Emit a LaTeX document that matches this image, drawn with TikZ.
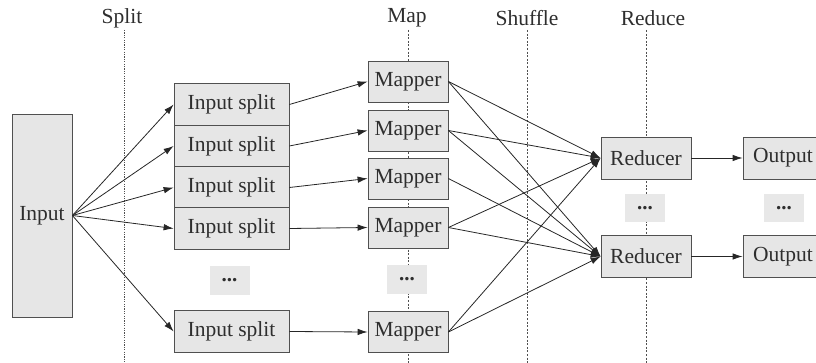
\documentclass[tikz,border=0pt]{standalone}
\usepackage{fontspec}
\setmainfont{Liberation Serif}
\usetikzlibrary{arrows.meta}
\definecolor{boxfill}{HTML}{E6E6E6}
\definecolor{dotfill}{HTML}{E8E8E8}
\definecolor{edge}{HTML}{505050}
\definecolor{txt}{HTML}{2E2E2E}
\begin{document}
\begin{tikzpicture}[x=1pt,y=-1pt,
  box/.style={draw=edge,fill=boxfill,line width=0.8pt,inner sep=0pt,text=txt,
    font=\fontsize{21.5}{24}\selectfont},
  dotbox/.style={fill=dotfill,inner sep=0pt,minimum width=40pt,minimum height=28pt,text=txt,
    font=\fontsize{21}{22}\selectfont\bfseries},
  phase/.style={text=txt,font=\fontsize{21.5}{24}\selectfont},
  sep/.style={draw=edge,line width=0.7pt,dash pattern=on 2pt off 1.6pt},
  arr/.style={draw=black!85,line width=0.8pt,-{Latex[length=10pt,width=6.5pt]}},
]
\clip (0,0) rectangle (816,363);
\useasboundingbox (0,0) rectangle (816,363);
% phase labels and separators
\node[phase] (lsplit) at (122,18) {Split};
\node[phase] (lmap) at (407,18) {Map};
\node[phase] (lshuf) at (527,18) {Shuffle};
\node[phase] (lred) at (653,18) {Reduce};
\coordinate (s1) at (124,30); \coordinate (s2) at (124,363);
\coordinate (m1) at (408,30); \coordinate (m2) at (408,363);
\coordinate (h1) at (527,30); \coordinate (h2) at (527,363);
\coordinate (r1) at (646,30); \coordinate (r2) at (646,363);
\draw[sep, dash pattern=on 1.2pt off 1.2pt] (s1) -- (s2);
\draw[sep] (m1) -- (m2);
\draw[sep] (h1) -- (h2);
\draw[sep] (r1) -- (r2);
% input
\node[box,minimum width=60pt,minimum height=203pt] (in) at (42,215.5) {Input};
% splits
\foreach \n/\y in {1/104.5,2/146,3/187.5,4/228.5,5/331.5}
  \node[box,minimum width=115pt,minimum height=41.3pt] (sp\n) at (231.5,\y) {Input split};
\node[dotbox] (spd) at (229.5,280.5) {...};
% mappers
\foreach \n/\y in {1/81.5,2/130.5,3/178.5,4/227.5,5/332}
  \node[box,minimum width=80pt,minimum height=41pt] (mp\n) at (408,\y) {Mapper};
\node[dotbox] (mpd) at (407,279.5) {...};
% reducers
\node[box,minimum width=90pt,minimum height=42pt] (rd1) at (646,158) {Reducer};
\node[box,minimum width=90pt,minimum height=42pt] (rd2) at (646,256.5) {Reducer};
\node[dotbox] (rdd) at (645,208) {...};
% outputs
\node[box,minimum width=80pt,minimum height=42pt,text width=60pt,align=left] (out1) at (783,158) {Output};
\node[box,minimum width=80pt,minimum height=42pt,text width=60pt,align=left] (out2) at (783,256.5) {Output};
\node[dotbox] (outd) at (784,208) {...};
% arrows
\foreach \n in {1,...,5} {
  \draw[arr] (in.east) -- (sp\n.west);
  \draw[arr] (sp\n.east) -- (mp\n.west);
}
\foreach \n in {1,2,4,5} \draw[arr] (mp\n.east) -- (rd1.west);
\foreach \n in {1,...,5} \draw[arr] (mp\n.east) -- (rd2.west);
\draw[arr] (rd1.east) -- (out1.west);
\draw[arr] (rd2.east) -- (out2.west);
\end{tikzpicture}
\end{document}
